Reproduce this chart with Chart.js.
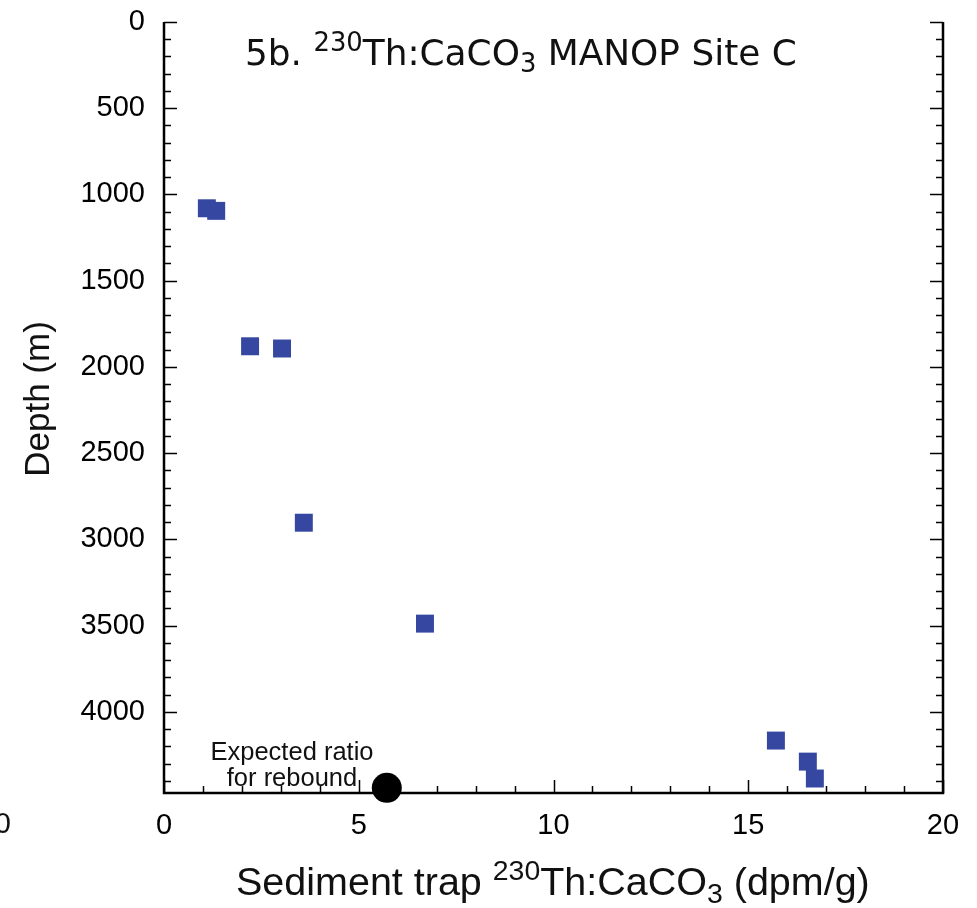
<!DOCTYPE html>
<html>
<head>
<meta charset="utf-8">
<script src="https://cdn.jsdelivr.net/npm/chart.js@4"></script>
<style>
  html, body { margin: 0; padding: 0; background: #fff; }
  #wrap { width: 977px; height: 908px; }
</style>
</head>
<body>
<div id="wrap"><canvas id="chart" width="977" height="908"></canvas></div>
<script>
// trap data: 230Th:CaCO3 (dpm/g) vs depth (m)
const trapRatio = [1.10, 1.34, 2.21, 3.03, 3.59, 6.70, 15.71, 16.53, 16.71];
const trapDepth = [1080, 1095, 1880, 1893, 2903, 3488, 4166, 4288, 4386];

// expected ratio for rebound
const expectedRatio = [5.72];
const expectedDepth = [4440];

const xTicks = [0, 5, 10, 15, 20];
const yTicks = [0, 500, 1000, 1500, 2000, 2500, 3000, 3500, 4000];
const depthMax = 4470;

const BLUE = 'rgb(53, 71, 160)';
const SANS = '"Liberation Sans", Arial, Helvetica, sans-serif';

// draw a run of text pieces (normal / sup / sub), returns total width
function drawRich(ctx, pieces, x, y, size, family, doDraw) {
  let cx = x;
  for (const p of pieces) {
    const s = p.t === 'n' ? size : size * 0.72;
    ctx.font = s + 'px ' + family;
    let dy = 0;
    if (p.t === 'sup') dy = -size * 0.38;
    if (p.t === 'sub') dy = size * 0.2;
    if (doDraw) ctx.fillText(p.s, cx, y + dy);
    cx += ctx.measureText(p.s).width;
  }
  return cx - x;
}

function fitRich(ctx, pieces, x, y, width, family) {
  const w = drawRich(ctx, pieces, 0, 0, 40, family, false);
  const size = 40 * width / w;
  drawRich(ctx, pieces, x, y, size, family, true);
}

const frame = {
  id: 'frame',
  beforeDatasetsDraw(chart) {
    const { ctx, chartArea: a, scales: { x, y } } = chart;
    ctx.save();
    ctx.strokeStyle = '#000';
    ctx.lineWidth = 2.5;
    ctx.beginPath();
    ctx.moveTo(a.left, a.top);
    ctx.lineTo(a.left, a.bottom);
    ctx.lineTo(a.right, a.bottom);
    ctx.lineTo(a.right, a.top);
    ctx.stroke();

    ctx.lineWidth = 1.5;
    ctx.beginPath();
    for (let v = 0; v <= depthMax; v += 100) {
      const py = Math.round(y.getPixelForValue(v)) + 0.5;
      const len = v % 500 === 0 ? 13 : 7;
      ctx.moveTo(a.left, py); ctx.lineTo(a.left + len, py);
      ctx.moveTo(a.right, py); ctx.lineTo(a.right - len, py);
    }
    for (let v = 0; v <= 20; v += 1) {
      const px = Math.round(x.getPixelForValue(v)) + 0.5;
      const len = v % 5 === 0 ? 13 : 7;
      ctx.moveTo(px, a.bottom); ctx.lineTo(px, a.bottom - len);
    }
    ctx.stroke();
    ctx.restore();
  },
  afterDraw(chart) {
    const { ctx } = chart;
    ctx.save();
    ctx.fillStyle = '#111';
    ctx.textBaseline = 'alphabetic';
    ctx.textAlign = 'left';

    // panel title
    fitRich(ctx, [
      { t: 'n', s: '5b. ' }, { t: 'sup', s: '230' }, { t: 'n', s: 'Th:CaCO' },
      { t: 'sub', s: '3' }, { t: 'n', s: ' MANOP Site C' }
    ], 245, 65, 552, '"DejaVu Sans", sans-serif');

    // x axis title
    fitRich(ctx, [
      { t: 'n', s: 'Sediment trap ' }, { t: 'sup', s: '230' }, { t: 'n', s: 'Th:CaCO' },
      { t: 'sub', s: '3' }, { t: 'n', s: ' (dpm/g)' }
    ], 236, 895, 634, SANS);

    // y axis title
    ctx.save();
    ctx.translate(49, 399);
    ctx.rotate(-Math.PI / 2);
    ctx.textAlign = 'center';
    ctx.font = '35px ' + SANS;
    ctx.fillText('Depth (m)', 0, 0);
    ctx.restore();

    // annotation near the expected point
    ctx.textAlign = 'center';
    ctx.font = '25.5px ' + SANS;
    ctx.fillText('Expected ratio', 292, 760);
    ctx.fillText('for rebound', 292, 786);

    // clipped label from the neighbouring panel
    ctx.textAlign = 'right';
    ctx.font = '29px ' + SANS;
    ctx.fillText('20', 11, 833);
    ctx.restore();
  }
};

new Chart(document.getElementById('chart'), {
  type: 'scatter',
  data: {
    datasets: [
      {
        label: 'Sediment trap',
        data: trapRatio.map((v, i) => ({ x: v, y: trapDepth[i] })),
        pointStyle: 'rect',
        pointRadius: 12.7,
        pointHoverRadius: 12.7,
        backgroundColor: BLUE,
        borderColor: BLUE,
        borderWidth: 0,
      },
      {
        label: 'Expected ratio for rebound',
        data: expectedRatio.map((v, i) => ({ x: v, y: expectedDepth[i] })),
        pointStyle: 'circle',
        pointRadius: 15,
        pointHoverRadius: 15,
        backgroundColor: '#000',
        borderColor: '#000',
        borderWidth: 0,
        clip: false,
      }
    ]
  },
  options: {
    responsive: false,
    animation: false,
    layout: { padding: { top: 22, right: 34, left: 0, bottom: 0 } },
    plugins: {
      legend: { display: false },
      tooltip: { enabled: false },
      title: { display: false },
    },
    scales: {
      x: {
        type: 'linear',
        min: 0,
        max: 20,
        afterBuildTicks: s => { s.ticks = xTicks.map(v => ({ value: v })); },
        afterFit: s => { s.height = 115; s.paddingLeft = 0; s.paddingRight = 0; },
        grid: { display: false, drawTicks: false },
        border: { display: false },
        ticks: {
          padding: 16,
          color: '#000',
          font: { family: SANS, size: 29 },
          callback: v => String(v),
        },
      },
      y: {
        type: 'linear',
        reverse: true,
        min: 0,
        max: depthMax,
        afterBuildTicks: s => { s.ticks = yTicks.map(v => ({ value: v })); },
        afterFit: s => { s.width = 164; s.paddingTop = 0; s.paddingBottom = 0; },
        grid: { display: false, drawTicks: false },
        border: { display: false },
        ticks: {
          padding: 19,
          color: '#000',
          font: { family: SANS, size: 29 },
          callback: v => String(v),
        },
      }
    }
  },
  plugins: [frame]
});
</script>
</body>
</html>
